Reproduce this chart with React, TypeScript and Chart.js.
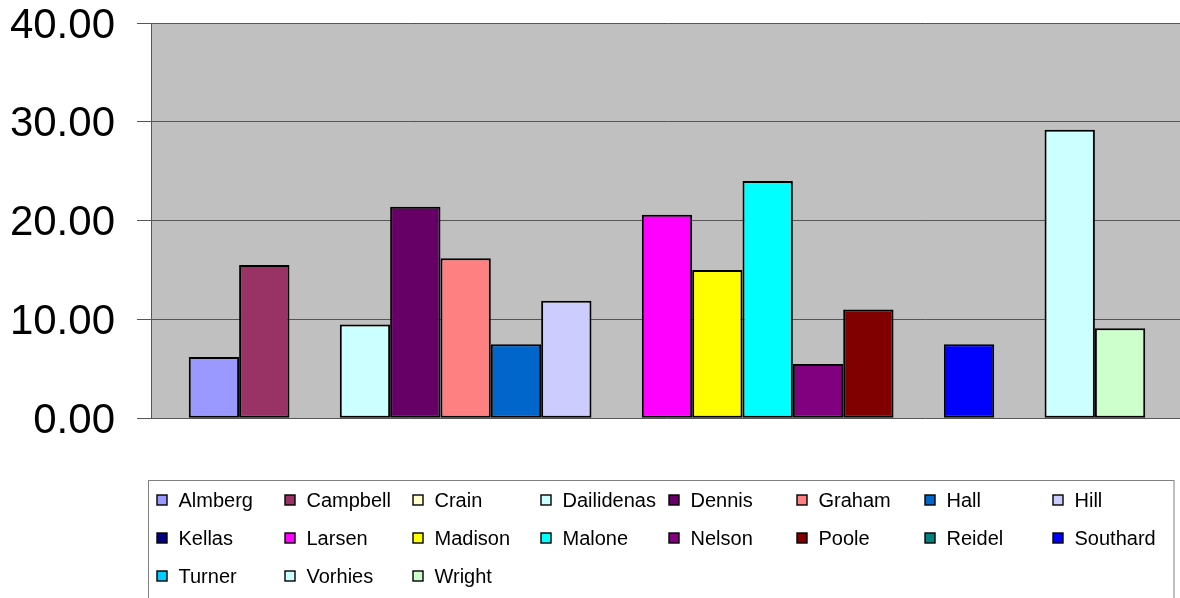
import React, { useEffect, useRef } from "react";
import { Chart, registerables } from "chart.js";

Chart.register(...registerables);

const categories: string[] = [""];

const seriesNames: string[] = [
  "Almberg", "Campbell", "Crain", "Dailidenas", "Dennis", "Graham", "Hall", "Hill",
  "Kellas", "Larsen", "Madison", "Malone", "Nelson", "Poole", "Reidel", "Southard",
  "Turner", "Vorhies", "Wright",
];

const seriesValues: (number | null)[] = [
  6.2, 15.5, null, 9.5, 21.4, 16.2, 7.5, 11.9,
  null, 20.6, 15.0, 24.0, 5.5, 11.0, null, 7.5,
  null, 29.2, 9.1,
];

const seriesColors: string[] = [
  "#9999FF", "#993366", "#FFFFCC", "#CCFFFF", "#660066", "#FF8080", "#0066CC", "#CCCCFF",
  "#000080", "#FF00FF", "#FFFF00", "#00FFFF", "#800080", "#800000", "#008080", "#0000FF",
  "#00CCFF", "#CCFFFF", "#CCFFCC",
];

const yMin = 0;
const yMax = 40;
const yStep = 10;

const FONT = '"Liberation Sans", Arial, sans-serif';

const plotBgPlugin = {
  id: "plotBg",
  beforeDraw(chart: any) {
    const { ctx, chartArea } = chart;
    ctx.save();
    ctx.fillStyle = "#C0C0C0";
    ctx.fillRect(chartArea.left, chartArea.top, chartArea.right - chartArea.left, chartArea.bottom - chartArea.top);
    ctx.restore();
  },
};

const boxLegendPlugin = {
  id: "boxLegend",
  afterDraw(chart: any) {
    const ctx = chart.ctx;
    ctx.save();
    ctx.fillStyle = "#FFFFFF";
    ctx.fillRect(148.5, 480.5, 1025.5, 130);
    ctx.strokeStyle = "#808080";
    ctx.lineWidth = 1;
    ctx.strokeRect(148.5, 480.5, 1025.5, 130);
    ctx.font = `20px ${FONT}`;
    ctx.textBaseline = "alphabetic";
    ctx.textAlign = "left";
    chart.data.datasets.forEach((ds: any, i: number) => {
      const c = i % 8;
      const r = Math.floor(i / 8);
      const x = 157 + c * 128;
      const y = 500 + r * 38;
      ctx.fillStyle = ds.backgroundColor;
      ctx.fillRect(x, y - 5, 10, 10);
      ctx.strokeStyle = "#000000";
      ctx.lineWidth = 1.4;
      ctx.strokeRect(x, y - 5, 10, 10);
      ctx.fillStyle = "#000000";
      ctx.fillText(ds.label, x + 21.5, y + 6.5);
    });
    ctx.restore();
  },
};

export default function App() {
  const canvasRef = useRef<HTMLCanvasElement | null>(null);

  useEffect(() => {
    if (!canvasRef.current) return;
    const chart = new Chart(canvasRef.current, {
      type: "bar",
      data: {
        labels: categories,
        datasets: seriesNames.map((name, i) => ({
          label: name,
          data: [seriesValues[i]],
          backgroundColor: seriesColors[i],
          borderColor: "#000000",
          borderWidth: 2,
          borderSkipped: false,
        })),
      },
      options: {
        responsive: false,
        animation: false,
        devicePixelRatio: 1,
        layout: { padding: { top: 23, bottom: 179.7, left: 0, right: 0 } },
        datasets: {
          bar: {
            categoryPercentage: 0.9268,
            barPercentage: 1,
          },
        },
        plugins: {
          legend: { display: false },
          tooltip: { enabled: false },
          title: { display: false },
        },
        scales: {
          x: {
            display: false,
          },
          y: {
            min: yMin,
            max: yMax,
            afterFit: (scale: any) => {
              scale.width = 151;
              scale.paddingTop = 0;
              scale.paddingBottom = 0;
            },
            ticks: {
              stepSize: yStep,
              color: "#000000",
              padding: 22,
              labelOffset: 3,
              font: { family: FONT, size: 42, lineHeight: 1 },
              callback: (v: any) => Number(v).toFixed(2),
            },
            grid: {
              color: "#555555",
              lineWidth: 1,
              drawTicks: true,
              tickLength: 14,
            },
            border: { display: true, color: "#555555", width: 1 },
          },
        },
      },
      plugins: [plotBgPlugin, boxLegendPlugin],
    });
    return () => chart.destroy();
  }, []);

  return (
    <div
      style={{
        position: "fixed",
        left: 0,
        top: 0,
        width: 1180,
        height: 598,
        overflow: "hidden",
        background: "#FFFFFF",
      }}
    >
      <canvas ref={canvasRef} width={1183} height={598} style={{ display: "block" }} />
    </div>
  );
}
